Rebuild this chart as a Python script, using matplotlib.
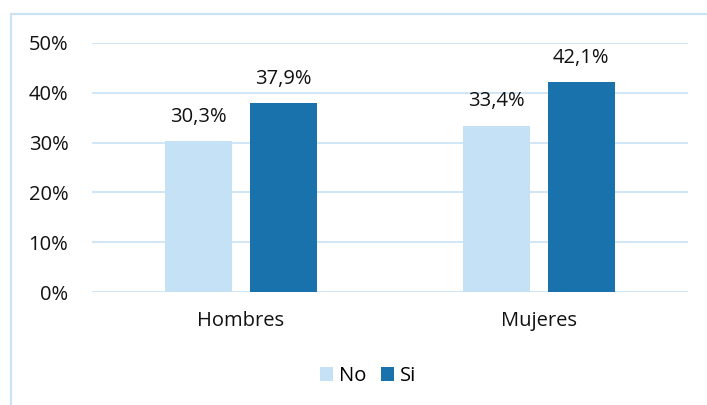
import matplotlib.pyplot as plt
from matplotlib.lines import Line2D

categories = ['Hombres', 'Mujeres']
no_vals = [30.3, 33.4]
si_vals = [37.9, 42.1]
series_names = ['No', 'Si']
yticks = [0, 10, 20, 30, 40, 50]

plt.rcParams['font.family'] = ['Open Sans', 'DejaVu Sans']

fig = plt.figure(figsize=(7.07, 4.05), dpi=100)
# plot area in pixels: x 92..688, y 43..292
ax = fig.add_axes([92 / 707, 1 - 292 / 405, 596 / 707, 249 / 405])

c_no = '#C5E1F5'
c_si = '#1A72AD'
w = 0.225
off = 0.1415
fs = 14.5
x = list(range(len(categories)))

b1 = ax.bar([i - off for i in x], no_vals, w, color=c_no, label=series_names[0], zorder=2)
b2 = ax.bar([i + off for i in x], si_vals, w, color=c_si, label=series_names[1], zorder=2)

for bars, vals in ((b1, no_vals), (b2, si_vals)):
    for b, v in zip(bars, vals):
        ax.text(b.get_x() + b.get_width() / 2, v + 2.9, f'{v:.1f}%'.replace('.', ','),
                ha='center', va='bottom', fontsize=fs, color='#111111')

ax.set_xlim(-0.5, 1.5)
ax.set_ylim(0, 50)
ax.set_yticks(yticks)
ax.set_yticklabels([f'{t}%' for t in yticks])
ax.set_xticks(x)
ax.set_xticklabels(categories)
ax.tick_params(length=0, labelsize=fs, colors='#111111')
ax.tick_params(axis='y', pad=17)
ax.tick_params(axis='x', pad=14)
ax.yaxis.grid(True, color='#D0E6F6', linewidth=1.4, zorder=0)
ax.set_axisbelow(True)
for s in ax.spines.values():
    s.set_visible(False)

fig.legend(handles=[b1, b2], loc='center', bbox_to_anchor=(368 / 707, 1 - 376 / 405),
           ncol=2, frameon=False, fontsize=fs, handlelength=0.65, handleheight=0.65,
           handletextpad=0.3, columnspacing=0.75)

# outer frame lines (left and top)
fig.add_artist(Line2D([11 / 707, 11 / 707], [0, 1 - 14 / 405], color='#C9E3F6', lw=1.5))
fig.add_artist(Line2D([11 / 707, 1], [1 - 14 / 405, 1 - 14 / 405], color='#C9E3F6', lw=1.5))

fig.savefig('out.png', dpi=100)
